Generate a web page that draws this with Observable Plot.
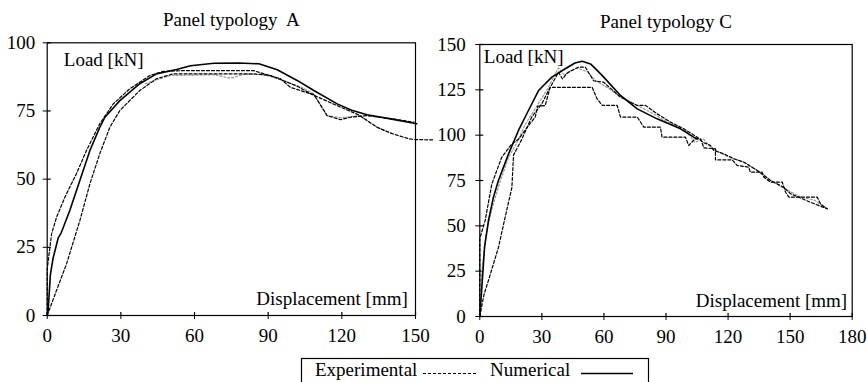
<!DOCTYPE html>
<html><head><meta charset="utf-8">
<script src="https://cdn.jsdelivr.net/npm/d3@7"></script>
<script src="https://cdn.jsdelivr.net/npm/@observablehq/plot@0.6"></script>
<style>
body{margin:0;background:#fff;}
#root{position:relative;width:867px;height:382px;overflow:hidden;background:#fff;font-family:'Liberation Serif',serif;}
.panel{position:absolute;top:0;}
.panel svg{background:transparent !important;overflow:visible;font-family:'Liberation Serif',serif !important;}
.panel svg text{font-family:'Liberation Serif',serif;}
#legend{position:absolute;left:0;top:0;}
#legend text{font-family:'Liberation Serif',serif;}
</style></head><body><div id="root"></div>
<script>
const FONT = "'Liberation Serif', serif";

// Tick values
const xTicksA = [0, 30, 60, 90, 120, 150];
const yTicksA = [0, 25, 50, 75, 100];
const xTicksC = [0, 30, 60, 90, 120, 150, 180];
const yTicksC = [0, 25, 50, 75, 100, 125, 150];

// Panel typology A — [displacement mm, load kN]
const numericalA = [[0,0],[0.4,2],[1.3,15],[2.4,21],[4.5,28.5],[5.8,30.5],[9.2,38.5],[13.3,49.5],[17.4,60.5],[21.4,69],[23.5,72.7],[29.6,78.8],[37.7,85],[44.5,88.6],[52.7,90.2],[58.4,91.6],[67.9,92.5],[78,92.6],[86.2,92.3],[93.7,90.1],[101.8,86.2],[108.6,82.5],[118.1,77.6],[124,75.3],[130.3,73.6],[139.8,72.1],[150.5,70.3]];
const experimentalA1 = [[0,0],[0,17],[1.8,30],[3.8,36],[7.2,43.4],[11.9,52],[16,60.5],[21.4,70.3],[26.9,77.6],[33.6,83.1],[41.8,88],[47.2,89.5],[55,89.8],[84,89.8],[95,86.8],[99,83.7],[107.2,81.3],[108.6,81],[114,73.3],[119.5,71.8],[123.5,72.7],[130,73.3],[140,72.2],[149.3,70.9]];
const experimentalA2 = [[0,0],[3.8,9.2],[7.9,19],[13.3,34.8],[17.4,48.3],[21.4,59.3],[25.5,69],[29.6,75.2],[37.7,82.5],[44.5,86.8],[51.3,88.6],[84,88.6],[91,88],[97.7,85.6],[102,84],[108,81],[119.5,76.4],[127,73.5],[134.4,69],[139.8,66.9],[147.3,64.8],[150,64.5],[157.5,64.4]];
const experimentalA3 = [[40,85],[50,88],[68,88.3],[74.7,87],[80,88.4],[88,88.4],[95,86.5],[104,83.5],[108.6,81.3],[114,73.3],[120,72.5],[127,73.3],[134.4,69],[140,67]];

// Panel typology C — [displacement mm, load kN]
const numericalC = [[0,0],[1,16.2],[2.3,38.2],[4.2,53],[6.6,65.8],[9,75],[13.9,89.7],[18.7,102.6],[23.5,113.6],[28.4,124.6],[34.8,132],[41.3,136.6],[46,139.8],[49.5,140.8],[53.5,139.3],[56.5,136],[59.9,132],[68,121.9],[76.1,114.5],[85.7,109],[97,103.5],[103.4,98.9],[105,98]];
const experimentalC1 = [[0,0],[0,43],[2.6,53],[5.8,73],[10.6,87.8],[15.5,95.2],[18.7,97.7],[22,103],[26.8,110],[28,116],[31.6,116.3],[34,126.4],[54.3,126.4],[56.7,120],[59.2,116.4],[66.4,116.4],[68,110],[76.1,110],[79.3,104.4],[87.3,104.4],[88.1,98.9],[99.4,98.9],[101,94.3],[104,98],[106.7,98],[108.3,93],[113.9,92.5],[113.9,86.4],[122,86.4],[124.4,83.3],[130,82.3],[130.8,79.6],[136.5,79.6],[137.3,76.8],[140.5,74.1],[146.2,74.1],[147.8,68.5],[149.4,65.8],[163.1,65.8],[164.7,62.1],[167.9,59.4]];
const experimentalC2 = [[0,0],[2,12],[4.2,20],[9,38],[12.3,55],[15.5,71],[16.3,89],[20.3,97.7],[25.1,110],[30,117.3],[33.2,124.6],[38,134.7],[40,131],[42,134],[44.5,135.7],[47.7,137.5],[51,137.5],[55,130],[59.9,129.2],[61.5,127.5],[68,121],[76.1,116.4],[80.1,116.4],[85.7,111.8],[92.2,107.2],[98.6,103.5],[105.1,98.9],[108,96],[111.5,94.3],[113.1,91.5],[118,89.7],[122.8,87],[127.6,85.1],[134.1,80.5],[140.5,75],[146.9,71.3],[150.2,67.7],[159.8,63],[167.9,59.4]];
const experimentalC3 = [[0,0],[1,25],[3,45],[6,60],[10,75],[14,88],[18,96],[22,106],[27,115],[33,126],[36,133],[38,137],[41,133],[43,135],[47,137],[52,135],[56,130],[62,126],[68,121],[75,117],[82,113],[88,109],[95,105],[100,102],[104,96],[108,98],[112,93],[120,88],[128,85],[135,80],[142,74],[148,70],[155,66],[162,64],[167,60]];

const toRows = (arr) => arr.map(([d, L]) => ({d, L}));

function panel(cfg) {
  const {title, xDomain, yDomain, xTicks, yTicks, width, height, mL, mR, mT, mB, yPad,
         titleDy, loadDx, loadDy, dispDx, dispDy, exp, gray, num} = cfg;
  const plotH = height - mT - mB, plotW = width - mL - mR;
  return Plot.plot({
    width, height, marginLeft: mL, marginRight: mR, marginTop: mT, marginBottom: mB,
    style: {fontFamily: FONT, fontSize: "19px", background: "transparent", color: "black", overflow: "visible"},
    x: {domain: xDomain, ticks: xTicks, label: null, tickSize: 4, tickPadding: 9},
    y: {domain: yDomain, ticks: yTicks, label: null, tickSize: 4, tickPadding: yPad},
    marks: [
      Plot.frame({stroke: "black", strokeWidth: 1.2}),
      Plot.tickX(xTicks, {x: d => d, insetTop: plotH - 3, stroke: "black", strokeWidth: 1.2}),
      Plot.tickY(yTicks, {y: d => d, insetRight: plotW - 4, stroke: "black", strokeWidth: 1.2}),
      Plot.line(toRows(gray), {x: "d", y: "L", stroke: "#999", strokeWidth: 1.2, strokeDasharray: "2,2"}),
      ...exp.map(s => Plot.line(toRows(s), {x: "d", y: "L", stroke: "black", strokeWidth: 1.2, strokeDasharray: "3,2"})),
      Plot.line(toRows(num), {x: "d", y: "L", stroke: "black", strokeWidth: 1.6}),
      Plot.text([title], {frameAnchor: "top", lineAnchor: "bottom", dy: titleDy, fontFamily: FONT}),
      Plot.text(["Load [kN]"], {frameAnchor: "top-left", textAnchor: "start", lineAnchor: "bottom", dx: loadDx, dy: loadDy, fontFamily: FONT}),
      Plot.text(["Displacement [mm]"], {frameAnchor: "bottom-right", textAnchor: "end", lineAnchor: "bottom", dx: dispDx, dy: dispDy, fontFamily: FONT})
    ]
  });
}

const root = document.getElementById("root");

const divA = document.createElement("div");
divA.className = "panel"; divA.style.left = "0px";
divA.appendChild(panel({
  title: "Panel typology  A", xDomain: [0, 150], yDomain: [0, 100], xTicks: xTicksA, yTicks: yTicksA,
  width: 440, height: 345, mL: 46.7, mR: 25, mT: 42.3, mB: 30, yPad: 8,
  titleDy: -17.3, loadDx: 16.6, loadDy: 22.7, dispDx: -7.7, dispDy: -11,
  exp: [experimentalA1, experimentalA2], gray: experimentalA3, num: numericalA
}));
root.appendChild(divA);

const divC = document.createElement("div");
divC.className = "panel"; divC.style.left = "430px";
divC.appendChild(panel({
  title: "Panel typology C", xDomain: [0, 180], yDomain: [0, 150], xTicks: xTicksC, yTicks: yTicksC,
  width: 437, height: 346, mL: 49.3, mR: 15.3, mT: 44, mB: 30, yPad: 10,
  titleDy: -17, loadDx: 4, loadDy: 18, dispDx: -5, dispDy: -10,
  exp: [experimentalC1, experimentalC2], gray: experimentalC3, num: numericalC
}));
root.appendChild(divC);

// Legend (boxed, below the panels)
const leg = d3.select(root).append("svg").attr("id", "legend").attr("width", 867).attr("height", 382)
  .attr("font-family", FONT).attr("font-size", 19);
leg.append("rect").attr("x", 301.5).attr("y", 358.5).attr("width", 347).attr("height", 40)
  .attr("fill", "none").attr("stroke", "black").attr("stroke-width", 1.2);
leg.append("text").attr("x", 315).attr("y", 376).text("Experimental");
leg.append("line").attr("x1", 423).attr("x2", 476).attr("y1", 373.5).attr("y2", 373.5)
  .attr("stroke", "black").attr("stroke-width", 1).attr("stroke-dasharray", "3,2");
leg.append("text").attr("x", 490).attr("y", 376).text("Numerical");
leg.append("line").attr("x1", 581).attr("x2", 633).attr("y1", 373.5).attr("y2", 373.5)
  .attr("stroke", "black").attr("stroke-width", 1.5);
</script></body></html>
